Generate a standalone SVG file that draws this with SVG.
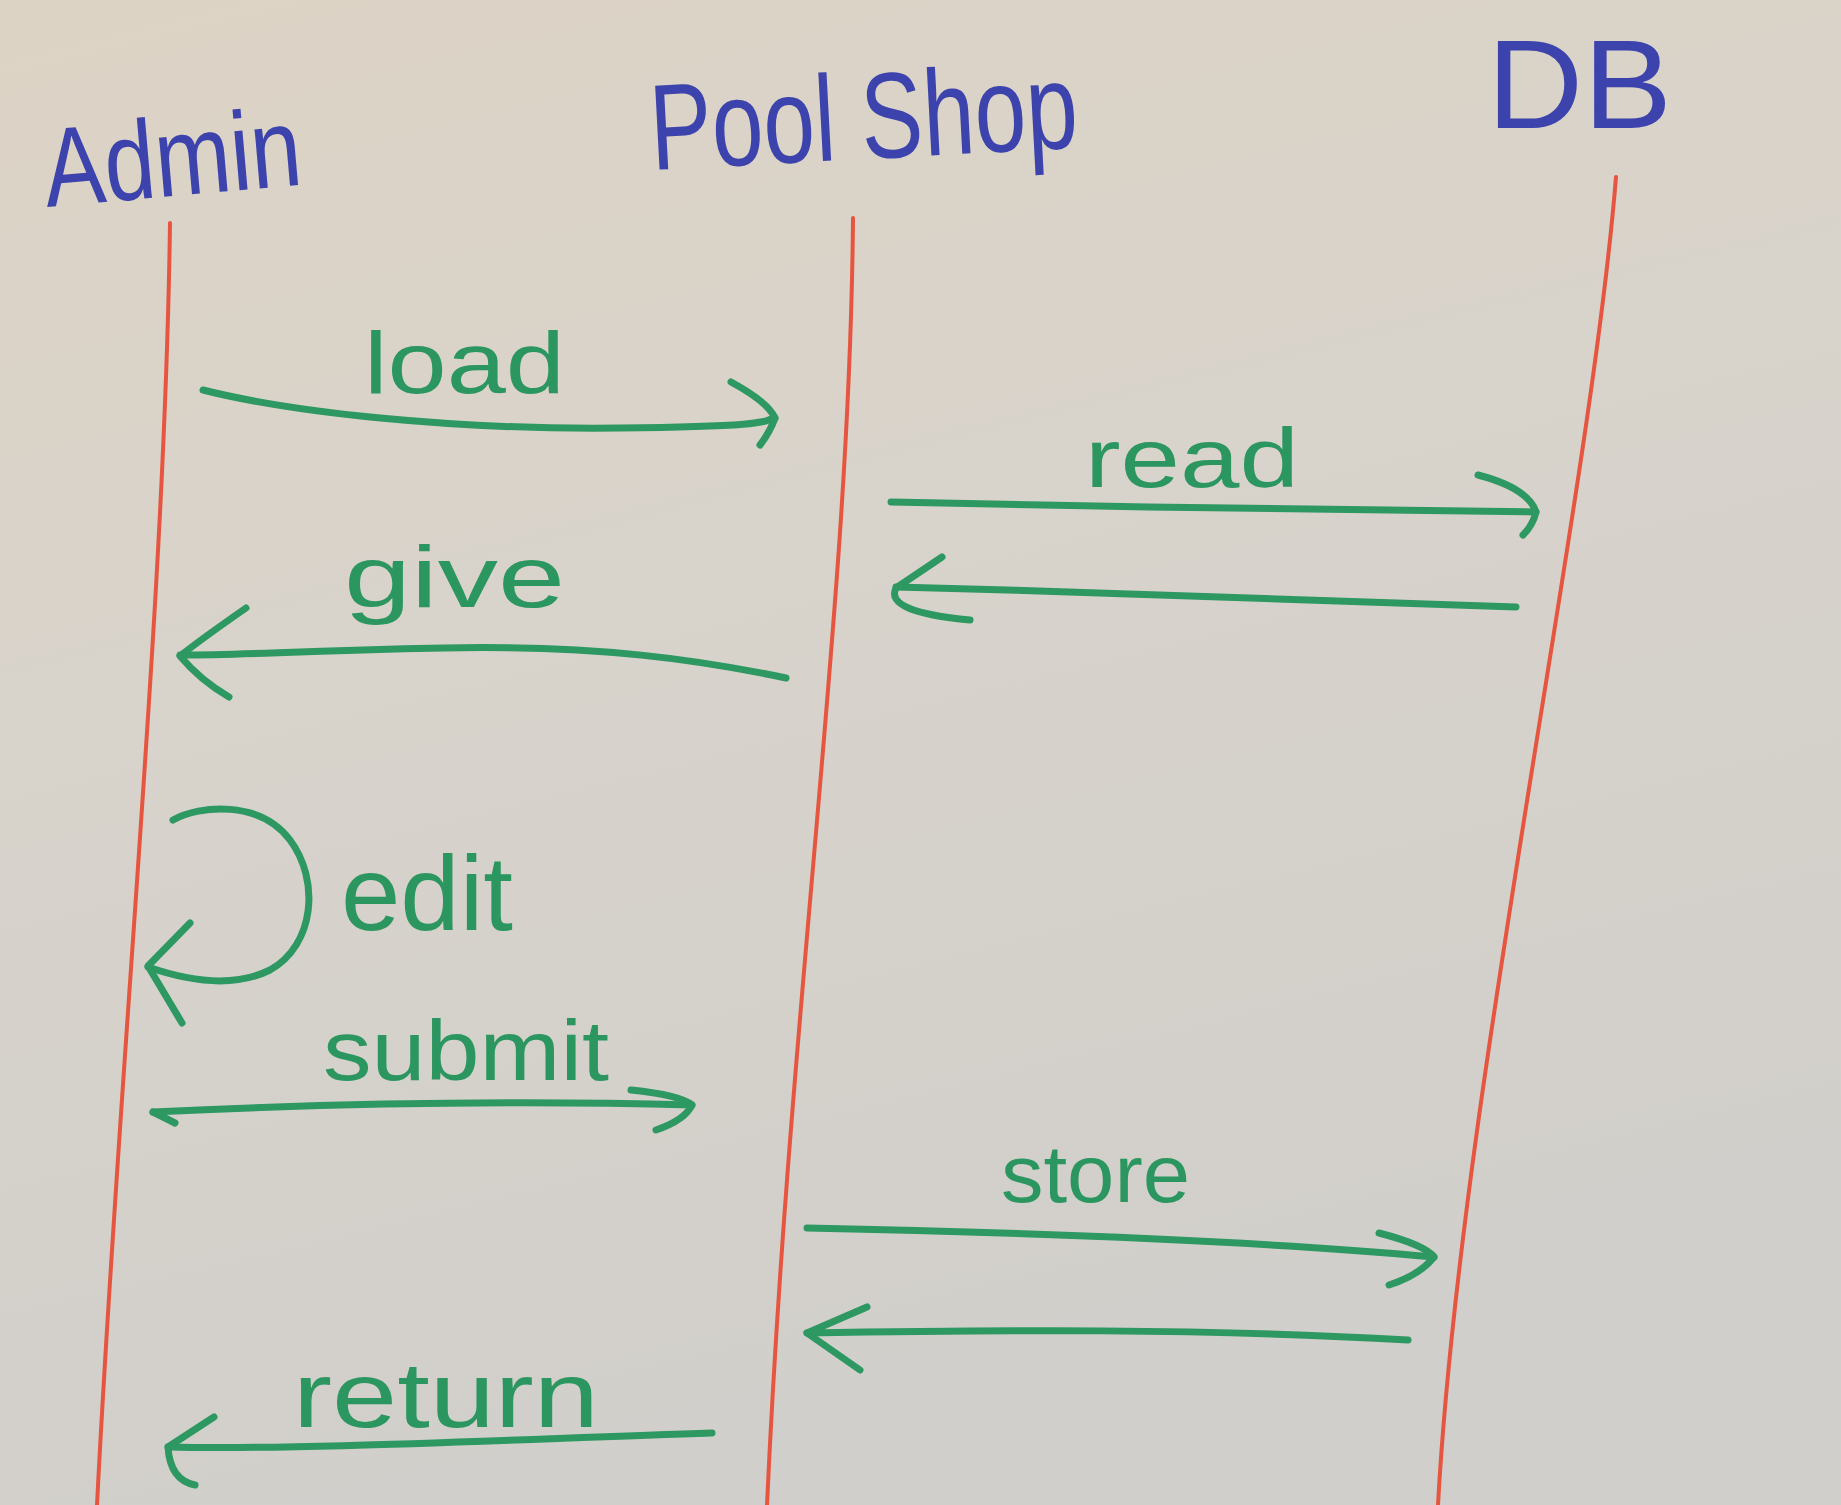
<svg xmlns="http://www.w3.org/2000/svg" width="1841" height="1505" viewBox="0 0 1841 1505">
<defs>
<linearGradient id="bg" x1="0" y1="0" x2="0.3" y2="1">
<stop offset="0" stop-color="#ddd3c5"/>
<stop offset="0.45" stop-color="#d8d3cb"/>
<stop offset="1" stop-color="#d1cfcb"/>
</linearGradient>
<style>
.title{font-family:"Liberation Sans","DejaVu Sans",sans-serif;fill:#3d43ad}
.lbl{font-family:"Liberation Sans","DejaVu Sans",sans-serif;fill:#2c9660}
.life{fill:none;stroke:#e6553f;stroke-width:4;stroke-linecap:round}
.shaft,.head{fill:none;stroke:#2e9862;stroke-width:7;stroke-linecap:round;stroke-linejoin:round}
</style>
</defs>
<rect x="0" y="0" width="1841" height="1505" fill="url(#bg)"/>

<g id="admin">
<text class="title" x="47" y="207" font-size="112" textLength="258" lengthAdjust="spacingAndGlyphs" transform="rotate(-5 47 207)">Admin</text>
<path class="life" d="M170,223 C165,600 120,1050 97,1505"/>
</g>
<g id="poolshop">
<text class="title" x="652" y="170" font-size="122" textLength="428" lengthAdjust="spacingAndGlyphs" transform="rotate(-3 652 170)">Pool Shop</text>
<path class="life" d="M853,218 C850,600 790,1000 767,1505"/>
</g>
<g id="db">
<text class="title" x="1487" y="128" font-size="126" textLength="185" lengthAdjust="spacingAndGlyphs">DB</text>
<path class="life" d="M1616,177 C1590,500 1460,1100 1438,1505"/>
</g>

<g id="connectors">
<g id="load">
<path class="shaft" d="M203,390 C290,412 450,430 620,428 S760,420 775,418"/>
<path class="head" d="M731,382 Q768,402 775,418 Q770,432 760,445"/>
<text class="lbl" x="364" y="393" font-size="88" textLength="201" lengthAdjust="spacingAndGlyphs">load</text>
</g>
<g id="read">
<path class="shaft" d="M891,502 C1100,507 1350,510 1536,512"/>
<path class="head" d="M1478,475 Q1528,488 1536,512 Q1533,525 1523,535"/>
<text class="lbl" x="1085" y="487" font-size="84" textLength="214" lengthAdjust="spacingAndGlyphs">read</text>
</g>
<g id="read-reply">
<path class="shaft" d="M1516,607 C1300,600 1100,592 896,587"/>
<path class="head" d="M942,557 L896,588 Q884,612 970,620"/>
</g>
<g id="give">
<path class="shaft" d="M786,678 C700,660 600,645 444,648 S250,655 180,655"/>
<path class="head" d="M246,608 Q200,640 180,656 Q200,680 229,697"/>
<text class="lbl" x="344" y="607" font-size="88" textLength="221" lengthAdjust="spacingAndGlyphs">give</text>
</g>
<g id="edit">
<path class="shaft" d="M173,820 C200,805 260,800 290,840 C320,880 315,945 270,970 C240,985 200,985 148,967"/>
<path class="head" d="M190,923 L148,966 L182,1023"/>
<text class="lbl" x="341" y="930" font-size="106" textLength="172" lengthAdjust="spacingAndGlyphs">edit</text>
</g>
<g id="submit">
<path class="shaft" d="M153,1112 C300,1105 500,1100 692,1105"/>
<path class="head" d="M153,1112 L175,1123"/>
<path class="head" d="M631,1090 Q680,1095 692,1105 Q685,1120 656,1130"/>
<text class="lbl" x="323" y="1080" font-size="86" textLength="286" lengthAdjust="spacingAndGlyphs">submit</text>
</g>
<g id="store">
<path class="shaft" d="M807,1228 C1000,1232 1250,1240 1434,1257"/>
<path class="head" d="M1379,1233 Q1425,1245 1434,1257 Q1420,1275 1389,1285"/>
<text class="lbl" x="1001" y="1202" font-size="82" textLength="189" lengthAdjust="spacingAndGlyphs">store</text>
</g>
<g id="store-reply">
<path class="shaft" d="M1408,1340 C1200,1328 1000,1330 807,1333"/>
<path class="head" d="M867,1307 L807,1333 L860,1370"/>
</g>
<g id="return">
<path class="shaft" d="M712,1433 C500,1440 300,1450 168,1447"/>
<path class="head" d="M214,1417 L168,1447 Q170,1480 195,1485"/>
<text class="lbl" x="293" y="1427" font-size="92" textLength="306" lengthAdjust="spacingAndGlyphs">return</text>
</g>
</g>
</svg>
